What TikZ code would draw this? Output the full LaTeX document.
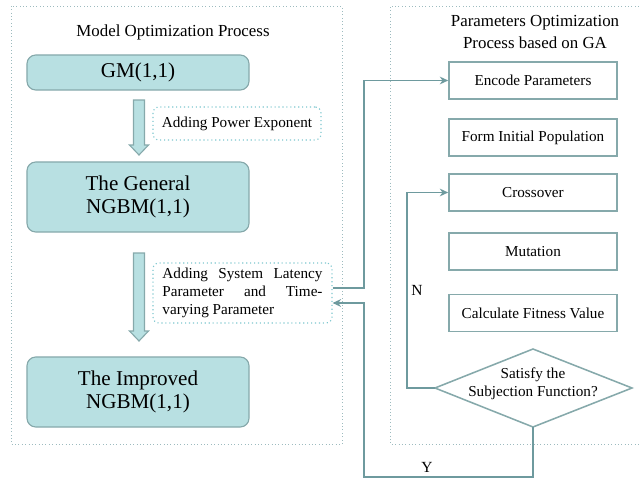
\documentclass[tikz,border=0pt]{standalone}
\usepackage{fontspec}
\setmainfont{Liberation Serif}
\usetikzlibrary{positioning,calc,arrows.meta}
\tikzset{>={Stealth[length=6pt,width=5.5pt]}}
\definecolor{boxFill}{HTML}{B8E0E2}
\definecolor{boxLine}{HTML}{86A9AB}
\definecolor{linkColor}{HTML}{6E9A9E}
\definecolor{frameColor}{HTML}{9DBBBF}
\definecolor{noteColor}{HTML}{7CC6CE}
\tikzset{
  model/.style={draw=boxLine, fill=boxFill, thick, rounded corners=0.22cm,
    minimum width=5.55cm, align=center, font=\fontsize{15}{16.5}\selectfont},
  note/.style={draw=noteColor, dotted, thick, rounded corners=0.15cm,
    align=left, font=\fontsize{10.8}{12.8}\selectfont},
  gastep/.style={draw=boxLine, line width=1.1pt, minimum width=4.2cm,
    minimum height=0.925cm, font=\fontsize{10.8}{12.8}\selectfont},
  link/.style={draw=linkColor, line width=1pt, ->},
  frame/.style={draw=frameColor, dotted},
  blockarrow/.style={draw=boxLine, fill=boxFill, thick},
  title/.style={align=center, font=\fontsize{12}{15}\selectfont},
}
\begin{document}
\begin{tikzpicture}[x=0.025cm, y=-0.025cm]
  \useasboundingbox (0,0) rectangle (640,480);
  % the two dotted frames
  \draw[frame] (11,6) rectangle (342,444);
  \draw[frame] (642,6) -- (390,6) -- (390,444) -- (642,444);
  \node[title] (ltitle) at (173,32) {Model Optimization Process};
  \node[title] (rtitle) at (535,32) {Parameters Optimization\\Process based on GA};
  % model side
  \node[model, minimum height=0.875cm] (gm) at (138,72.5) {GM(1,1)};
  \node[model, minimum height=1.75cm] (gen) at (138,197) {The General\\NGBM(1,1)};
  \node[model, minimum height=1.75cm] (imp) at (138,392) {The Improved\\NGBM(1,1)};
  \draw[blockarrow] (139,100) ++(-5.5,0) -- ++(11,0) -- ++(0,45) -- ++(4,0)
    -- ++(-9.5,10) -- ++(-9.5,-10) -- ++(4,0) -- cycle;
  \draw[blockarrow] (139,253) ++(-5.5,0) -- ++(11,0) -- ++(0,78) -- ++(4,0)
    -- ++(-9.5,10) -- ++(-9.5,-10) -- ++(4,0) -- cycle;
  \node[note, minimum width=4.2cm, minimum height=0.825cm, align=center] (pow) at (237,123.5) {Adding Power Exponent};
  \node[note, minimum width=4.475cm, minimum height=1.5cm] (lat) at (242.5,293)
    {\makebox[4cm][s]{Adding System Latency}\\
     \makebox[4cm][s]{Parameter and Time-}\\
     varying Parameter};
  % GA side
  \node[gastep] (enc) at (533,80.5) {Encode Parameters};
  \node[gastep] (pop) at (533,137.5) {Form Initial Population};
  \node[gastep] (cross) at (533,192.5) {Crossover};
  \node[gastep] (mut) at (533,251.5) {Mutation};
  \node[gastep] (fit) at (533,313) {Calculate Fitness Value};
  \coordinate (decN) at (533,349);
  \coordinate (decE) at (632,388);
  \coordinate (decS) at (533,427);
  \coordinate (decW) at (435,388);
  \draw[draw=boxLine, line width=1.1pt] (decN) -- (decE) -- (decS) -- (decW) -- cycle;
  \node[gastep, draw=none, align=center] (dec) at (533,384) {Satisfy the\\Subjection Function?};
  % connectors
  \coordinate (nturn) at (407,388);
  \coordinate (yturn) at (364,477);
  \coordinate (eturn) at (364,288);
  \draw[link] (decW) -- (nturn) |- (cross.west);
  \draw[link] (decS) |- (yturn) |- ($(lat.east)+(0,10)$);
  \draw[link] ($(lat.east)+(0,-5)$) -- (eturn) |- (enc.west);
  \node[font=\fontsize{11}{13}\selectfont] (nlab) at (417,290) {N};
  \node[font=\fontsize{11}{13}\selectfont] (ylab) at (427,467) {Y};
\end{tikzpicture}
\end{document}
